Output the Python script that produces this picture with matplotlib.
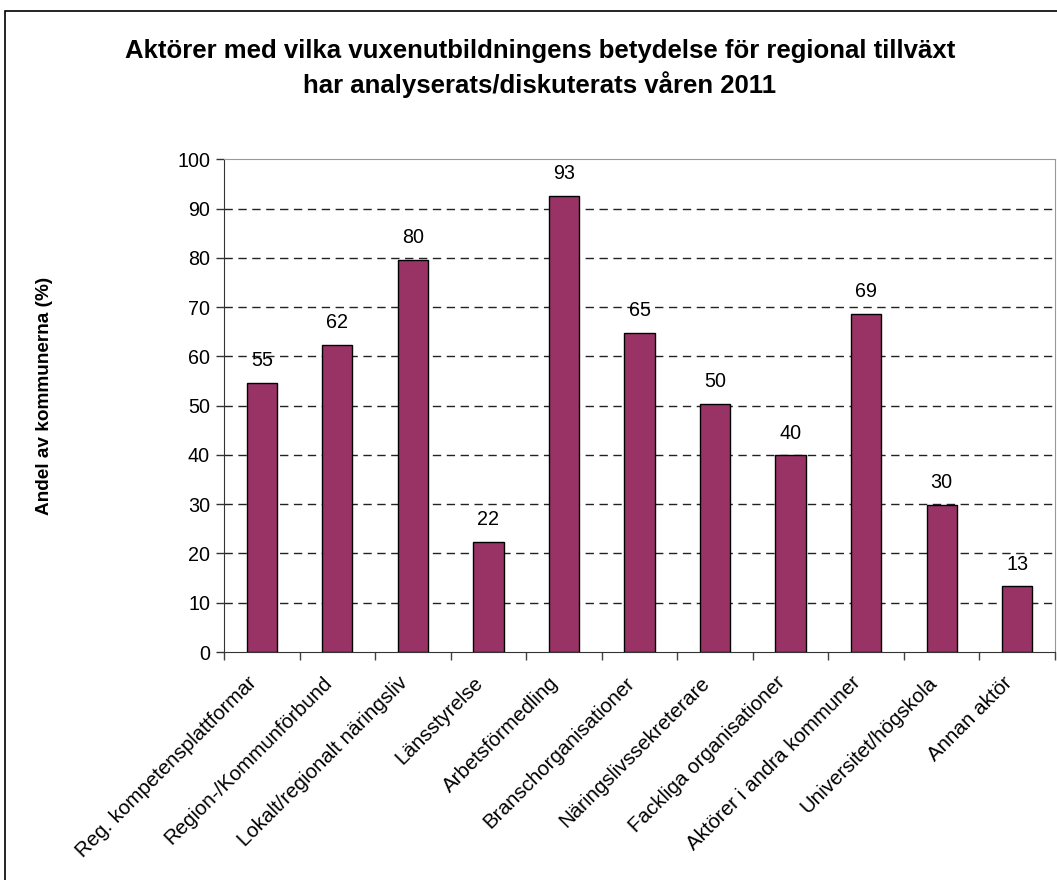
import matplotlib
matplotlib.use('Agg')
import matplotlib.pyplot as plt
from matplotlib.patches import Rectangle
from matplotlib.transforms import ScaledTranslation

plt.rcParams['font.family'] = ['Liberation Sans', 'DejaVu Sans']

categories = ['Reg. kompetensplattformar', 'Region-/Kommunförbund', 'Lokalt/regionalt näringsliv',
              'Länsstyrelse', 'Arbetsförmedling', 'Branschorganisationer', 'Näringslivssekreterare',
              'Fackliga organisationer', 'Aktörer i andra kommuner', 'Universitet/högskola', 'Annan aktör']
values = [54.6, 62.4, 79.6, 22.3, 92.6, 64.7, 50.4, 39.9, 68.6, 29.8, 13.3]
yticks = [0, 10, 20, 30, 40, 50, 60, 70, 80, 90, 100]

fig = plt.figure(figsize=(10.57, 8.8), dpi=100)
ax = fig.add_axes([224/1057, 1 - 652/880, (1055 - 224)/1057, (652 - 159.3)/880])

x = range(len(categories))
ax.bar(x, values, width=0.4, color='#993366', edgecolor='black', linewidth=1, zorder=3)
for xi, v in zip(x, values):
    ax.text(xi, v + 3.4, f'{v:.0f}', ha='center', va='baseline', fontsize=14.2)

ax.set_xlim(-0.5, len(categories) - 0.5)
ax.set_ylim(0, 100)
ax.set_yticks(yticks)
ax.tick_params(axis='y', labelsize=14.2, length=6, width=1, direction='out', pad=4, color='#333333')
ax.set_xticks(list(x))
ax.set_xticklabels(categories, rotation=45, ha='right', va='center', rotation_mode='anchor', fontsize=14.8)
ax.tick_params(axis='x', length=0, pad=20)
shift = ScaledTranslation(-8/100, 0, fig.dpi_scale_trans)
for lab in ax.get_xticklabels():
    lab.set_transform(lab.get_transform() + shift)
ax.set_xticks([i - 0.5 for i in range(len(categories) + 1)], minor=True)
ax.tick_params(axis='x', which='minor', length=6, width=1, direction='out', color='#404040')

# streckade stödlinjer
for yv in yticks[1:-1]:
    ax.axhline(yv, color='#222222', linewidth=1, linestyle=(0, (6, 4)), zorder=1)

ax.spines['left'].set_color('#333333')
ax.spines['bottom'].set_color('#333333')
ax.spines['top'].set_color('#999999')
ax.spines['right'].set_color('#999999')

fig.text(45/1057, 1 - 396/880, 'Andel av kommunerna (%)', rotation=90, ha='center', va='center',
         fontsize=13.7, fontweight='bold')

fig.text(540/1057, 1 - 51/880, 'Aktörer med vilka vuxenutbildningens betydelse för regional tillväxt',
         ha='center', va='center', fontsize=18.5, fontweight='bold')
fig.text(540/1057, 1 - 85/880, 'har analyserats/diskuterats våren 2011',
         ha='center', va='center', fontsize=18.5, fontweight='bold')

fig.add_artist(Rectangle((4.5/1057, -0.1), 1.2, 1.1 - 11/880, transform=fig.transFigure,
                         fill=False, edgecolor='black', linewidth=1.2))

fig.savefig('out.png', dpi=100)
